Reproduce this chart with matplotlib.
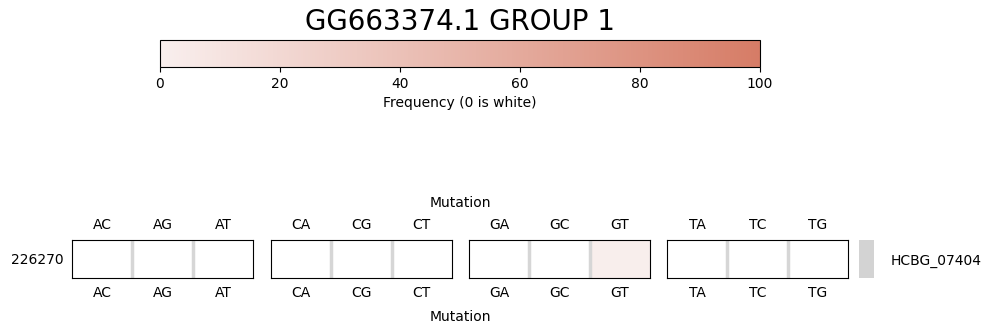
import matplotlib
matplotlib.use("Agg")
import matplotlib.pyplot as plt
import numpy as np
from matplotlib.colors import LinearSegmentedColormap, Normalize
from matplotlib.colorbar import ColorbarBase

title = "GG663374.1 GROUP 1"
sample = "226270"
gene = "HCBG_07404"
groups = [["AC", "AG", "AT"], ["CA", "CG", "CT"], ["GA", "GC", "GT"], ["TA", "TC", "TG"]]
freqs = [[0, 0, 0], [0, 0, 0], [0, 0, 1], [0, 0, 0]]

cmap = LinearSegmentedColormap.from_list("freq", ["#f9efee", "#d67c66"])
cmap.set_bad("white")
norm = Normalize(0, 100)

W, H = 990, 335
fig = plt.figure(figsize=(W / 100, H / 100), dpi=100)


def box(x0, y0, x1, y1):
    return fig.add_axes([x0 / W, 1 - y1 / H, (x1 - x0) / W, (y1 - y0) / H])


fig.suptitle(title, fontsize=20, x=460 / W, y=1 - 22 / H, va="center")

cax = box(160, 40, 760, 67)
cb = ColorbarBase(cax, cmap=cmap, norm=norm, orientation="horizontal")
cb.set_label("Frequency (0 is white)")
cb.set_ticks([0, 20, 40, 60, 80, 100])

lefts = [72, 271, 469, 667]
for i, (labels, vals) in enumerate(zip(groups, freqs)):
    ax = box(lefts[i], 240, lefts[i] + 181, 278)
    data = np.ma.masked_equal(np.array([vals], dtype=float), 0)
    ax.imshow(data, cmap=cmap, norm=norm, aspect="auto",
              extent=(0, len(vals), 0, 1))
    for k in range(1, len(vals)):
        ax.axvline(k, color="#d6d6d6", lw=2.5)
    ax.set_xticks(np.arange(len(vals)) + 0.5)
    ax.set_xticklabels(labels)
    ax.tick_params(axis="x", length=0, labeltop=True, labelbottom=True, pad=6)
    if i == 0:
        ax.set_yticks([0.5])
        ax.set_yticklabels([sample])
        ax.tick_params(axis="y", length=0, pad=6)
    else:
        ax.set_yticks([])

gax = box(859, 240, 874, 278)
gax.imshow([[0]], cmap=LinearSegmentedColormap.from_list("g", ["lightgray", "lightgray"]),
           aspect="auto", extent=(0, 1, 0, 1))
for s in gax.spines.values():
    s.set_visible(False)
gax.set_xticks([])
gax.set_yticks([0.5])
gax.set_yticklabels([gene])
gax.yaxis.tick_right()
gax.tick_params(axis="y", length=0, pad=12)

fig.text(460 / W, 1 - 203 / H, "Mutation", ha="center", va="center")
fig.text(460 / W, 1 - 317 / H, "Mutation", ha="center", va="center")

fig.savefig("out.png", dpi=100)
